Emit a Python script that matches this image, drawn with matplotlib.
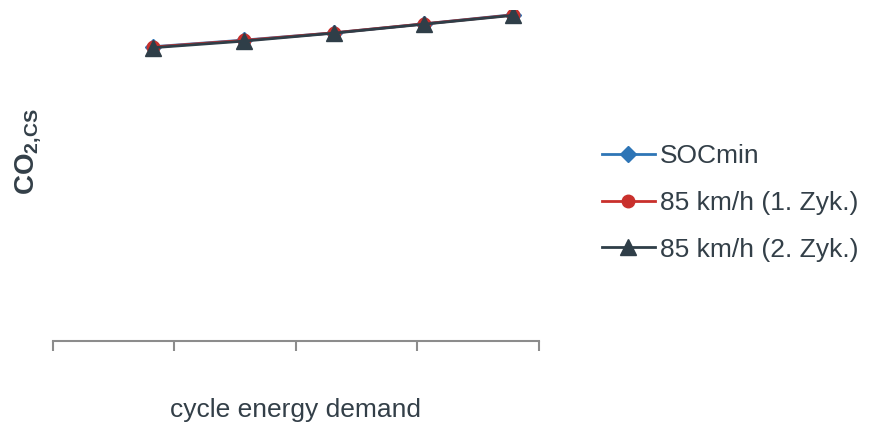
import matplotlib.pyplot as plt

plt.rcParams['font.family'] = ['Liberation Sans', 'DejaVu Sans']
plt.rcParams['mathtext.fontset'] = 'custom'
plt.rcParams['mathtext.rm'] = 'Liberation Sans'
plt.rcParams['mathtext.bf'] = 'Liberation Sans:bold'

# ── Data ─────────────────────────────────────────────────────────────
x_ticks = [0, 1, 2, 3, 4]
energy = [0.82, 1.57, 2.31, 3.05, 3.79]
soc_min = [88.9, 90.9, 93.1, 95.8, 98.6]
zyk_1 = [88.8, 90.8, 93.1, 95.8, 98.5]
zyk_2 = [88.6, 90.6, 93.0, 95.7, 98.4]

TEXT = "#333f48"
AXIS = "#8c8c8c"

fig = plt.figure(figsize=(8.79, 4.28), dpi=100)
ax = fig.add_axes([53 / 879, 87 / 428, 486 / 879, 331 / 428])

ax.plot(energy, soc_min, color="#2e75b6", lw=2, marker="D", ms=8,
        label="SOCmin", zorder=3)
ax.plot(energy, zyk_1, color="#c9302c", lw=2, marker="o", ms=9,
        label="85 km/h (1. Zyk.)", zorder=4)
ax.plot(energy, zyk_2, color="#2f3e48", lw=2, marker="^", ms=11,
        label="85 km/h (2. Zyk.)", zorder=5)

ax.set_xlim(0, 4)
ax.set_ylim(0, 100)
ax.set_xticks(x_ticks)
ax.set_xticklabels([])
ax.set_yticks([])
for s in ["top", "right", "left"]:
    ax.spines[s].set_visible(False)
ax.spines["bottom"].set_color(AXIS)
ax.spines["bottom"].set_linewidth(1.5)
ax.tick_params(axis="x", direction="out", length=7, width=1.5, color=AXIS)

ax.set_xlabel("cycle energy demand", fontsize=19, color=TEXT, va="center")
ax.xaxis.set_label_coords(0.5, -(410 - 341) / 331)
ax.set_ylabel(r"CO$_\mathbf{2{,}CS}$", fontsize=20, fontweight="bold",
              color=TEXT, va="center")
ax.yaxis.set_label_coords(-(53 - 29) / 486, (341 - 152) / 331)

ax.legend(loc="center left", bbox_to_anchor=(602 / 879, 1 - 203 / 428),
          bbox_transform=fig.transFigure, frameon=False,
          fontsize=19, labelcolor=TEXT, handlelength=2.0, handletextpad=0.2,
          labelspacing=0.86, borderaxespad=0, borderpad=0)

fig.savefig("out.png", dpi=100)
